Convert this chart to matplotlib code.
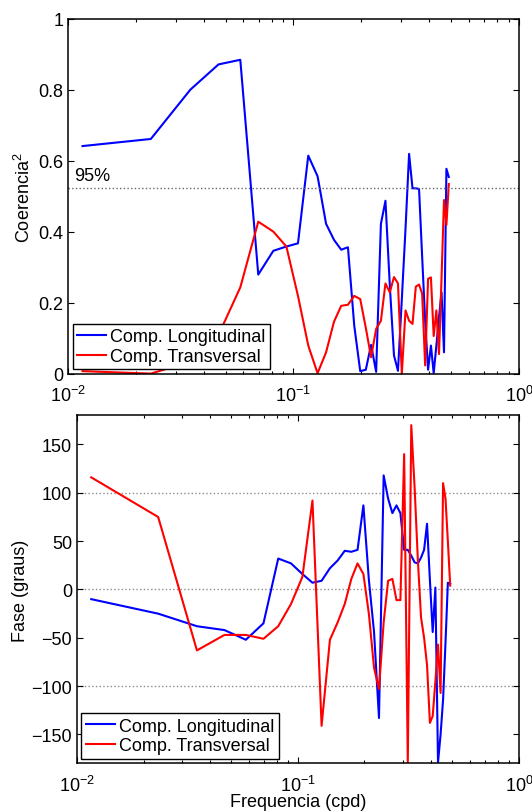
import matplotlib
matplotlib.use("Agg")
import matplotlib.pyplot as plt
from matplotlib.ticker import LogLocator, NullFormatter

plt.rcParams['font.family'] = ['Liberation Sans', 'DejaVu Sans']
plt.rcParams['mathtext.fontset'] = 'custom'
plt.rcParams['mathtext.rm'] = 'Liberation Sans'
plt.rcParams['mathtext.it'] = 'Liberation Sans:italic'
plt.rcParams['font.size'] = 13

# frequencias (cpd)
freq = [0.0116, 0.0233, 0.0349, 0.0465, 0.0581, 0.0698, 0.0814, 0.0930,
        0.1047, 0.1163, 0.1279, 0.1395, 0.1512, 0.1628, 0.1744, 0.1860,
        0.1977, 0.2093, 0.2209, 0.2326, 0.2442, 0.2558, 0.2674, 0.2791,
        0.2907, 0.3023, 0.3140, 0.3256, 0.3372, 0.3488, 0.3605, 0.3721,
        0.3837, 0.3953, 0.4070, 0.4186, 0.4302, 0.4419, 0.4535, 0.4651,
        0.4767, 0.4884]

coh_long = [0.642, 0.662, 0.801, 0.872, 0.885, 0.280, 0.347, 0.359,
            0.368, 0.615, 0.557, 0.423, 0.378, 0.350, 0.357, 0.136,
            0.008, 0.012, 0.082, 0.006, 0.423, 0.488, 0.25, 0.052,
            0.009, 0.21, 0.41, 0.620, 0.523, 0.523, 0.521, 0.33,
            0.15, 0.012, 0.080, 0.002, 0.08, 0.16, 0.23, 0.061,
            0.578, 0.555]

coh_trans = [0.008, 0.001, 0.035, 0.11, 0.244, 0.429, 0.401, 0.359,
             0.22, 0.080, 0.002, 0.061, 0.147, 0.192, 0.195, 0.220,
             0.211, 0.13, 0.047, 0.127, 0.150, 0.255, 0.230, 0.273,
             0.255, 0.001, 0.179, 0.150, 0.141, 0.246, 0.252, 0.226,
             0.024, 0.268, 0.272, 0.107, 0.179, 0.056, 0.27, 0.490,
             0.420, 0.535]

fase_long = [-10, -25, -38, -42, -52, -35, 32, 27,
             16, 7, 9, 22, 30, 40, 39, 41,
             87, 10, -44, -133, 118, 94, 79, 87,
             79, 41, 41, 35, 28, 27, 33, 41,
             68, 10, -44, 2, -179, -150, -114, -55,
             7, 6]

fase_trans = [116, 75, -63, -47, -47, -51, -38, -15,
              13, 92, -141, -52, -34, -15, 11, 27,
              16, -25, -81, -103, -34, 9, 11, -11,
              -11, 140, -179, 170, 105, 30, -29, -50,
              -78, -138, -131, -95, -57, -107, 110, 94,
              50, 4]

nivel95 = 0.524
labels = ['Comp. Longitudinal', 'Comp. Transversal']


def style(ax):
    ax.set_xscale('log')
    ax.set_xlim(1e-2, 1e0)
    ax.xaxis.set_major_locator(LogLocator(base=10, numticks=5))
    ax.xaxis.set_minor_locator(LogLocator(base=10, subs=range(2, 10), numticks=20))
    ax.xaxis.set_minor_formatter(NullFormatter())
    ax.tick_params(which='both', direction='in', top=True, right=True, width=0.8)
    ax.tick_params(which='major', length=4.5, labelsize=13)
    ax.tick_params(axis='x', which='major', pad=8)
    ax.tick_params(which='minor', length=2.5)
    for s in ax.spines.values():
        s.set_linewidth(1.1)


def legenda(ax):
    leg = ax.legend(loc='lower left', fancybox=False, edgecolor='black',
                    framealpha=1, fontsize=13, handlelength=1.6,
                    handletextpad=0.25, labelspacing=0.15, borderpad=0.25,
                    borderaxespad=0.25)
    leg.get_frame().set_linewidth(1.0)


fig = plt.figure(figsize=(5.32, 8.12), dpi=100)

ax1 = fig.add_axes([0.1278, 0.5382, 0.8477, 0.4372])
ax1.plot(freq, coh_long, color='b', lw=1.5, label=labels[0])
ax1.plot(freq, coh_trans, color='r', lw=1.5, label=labels[1])
ax1.axhline(nivel95, color='0.4', ls=':', lw=1.0)
ax1.text(0.0107, nivel95 + 0.01, '95%', fontsize=13, va='bottom', ha='left')
ax1.set_ylim(0, 1)
ax1.set_yticks([0, 0.2, 0.4, 0.6, 0.8, 1])
ax1.set_yticklabels(['0', '0.2', '0.4', '0.6', '0.8', '1'])
ax1.set_ylabel('Coerencia$^2$', fontsize=13, labelpad=3)
style(ax1)
legenda(ax1)

ax2 = fig.add_axes([0.1447, 0.0585, 0.8308, 0.4286])
for yy in [100, 0, -100]:
    ax2.axhline(yy, color='0.55', ls=':', lw=1.0, zorder=0)
ax2.plot(freq, fase_long, color='b', lw=1.5, label=labels[0])
ax2.plot(freq, fase_trans, color='r', lw=1.5, label=labels[1])
ax2.set_ylim(-180, 180)
ax2.set_yticks([-150, -100, -50, 0, 50, 100, 150])
ax2.set_ylabel('Fase (graus)', fontsize=13, labelpad=2)
ax2.set_xlabel('Frequencia (cpd)', fontsize=13, labelpad=-1)
style(ax2)
legenda(ax2)

fig.savefig('out.png', dpi=100)
